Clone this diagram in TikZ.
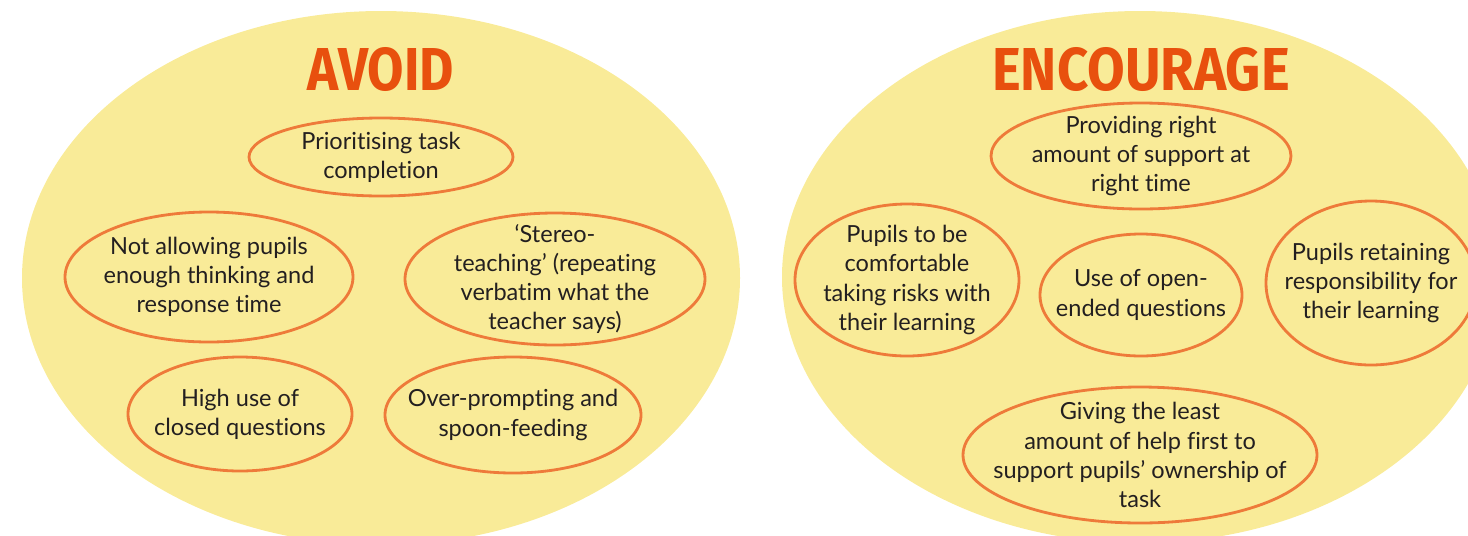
\documentclass[tikz,border=0pt]{standalone}
\usepackage{fontspec}
\setmainfont{Lato}[Ligatures=NoCommon]
\newfontfamily\headfont{Fira Sans}
\definecolor{padyellow}{RGB}{249,235,152}
\definecolor{ringorange}{RGB}{238,122,58}
\definecolor{headorange}{RGB}{232,80,14}
\definecolor{inkgrey}{RGB}{35,31,32}
\begin{document}
\begin{tikzpicture}[x=0.02cm, y=-0.02cm,
  ring/.style={draw=ringorange, line width=1.6pt},
  says/.style={align=center, text=inkgrey, font=\fontsize{13.4}{16.6}\selectfont},
  title/.style={anchor=base, text=headorange, font=\headfont\bfseries\fontsize{34.5}{36}\selectfont}]
\useasboundingbox (0,0) rectangle (1468,535);
\clip (0,0) rectangle (1468,535);
% two big pads
\fill[padyellow] (381,278) ellipse [x radius=359, y radius=267];
\fill[padyellow] (1140,277) ellipse [x radius=358, y radius=266];
\node[title] (avoid) at (381,90) {\scalebox{0.87}[1]{AVOID}};
\node[title] (encourage) at (1141,90) {\scalebox{0.9}[1]{ENCOURAGE}};
% avoid side
\node[says] (prio) at (381,157) {Prioritising task\\completion};
\node[says] (notallow) at (209,277) {Not allowing pupils\\enough thinking and\\response time};
\node[says] (stereo) at (555,279) {`Stereo-\\teaching' (repeating\\verbatim what the\\teacher says)};
\node[says] (highuse) at (240,414) {High use of\\closed questions};
\node[says] (overprompt) at (513,415) {Over-prompting and\\spoon-feeding};
\draw[ring] (prio.center) ellipse [x radius=132, y radius=39];
\draw[ring] (notallow.center) ellipse [x radius=144, y radius=65];
\draw[ring] (stereo.center) ellipse [x radius=150, y radius=66];
\draw[ring] (highuse.center) ellipse [x radius=112, y radius=57];
\draw[ring] (overprompt.center) ellipse [x radius=128, y radius=58];
% encourage side
\node[says] (provide) at (1141,156) {Providing right\\amount of support at\\right time};
\node[says] (risks) at (907,280) {Pupils to be\\comfortable\\taking risks with\\their learning};
\node[says] (openq) at (1141,295) {Use of open-\\ended questions};
\node[says] (retain) at (1371,283) {Pupils retaining\\responsibility for\\their learning};
\node[says] (giving) at (1140,455) {Giving the least\\amount of help first to\\support pupils' ownership of\\task};
\draw[ring] (provide.center) ellipse [x radius=150, y radius=53];
\draw[ring] (risks.center) ellipse [x radius=112, y radius=76];
\draw[ring] (openq.center) ellipse [x radius=101, y radius=61];
\draw[ring] (retain.center) ellipse [x radius=105, y radius=82];
\draw[ring] (giving.center) ellipse [x radius=177, y radius=68];
\end{tikzpicture}
\end{document}
